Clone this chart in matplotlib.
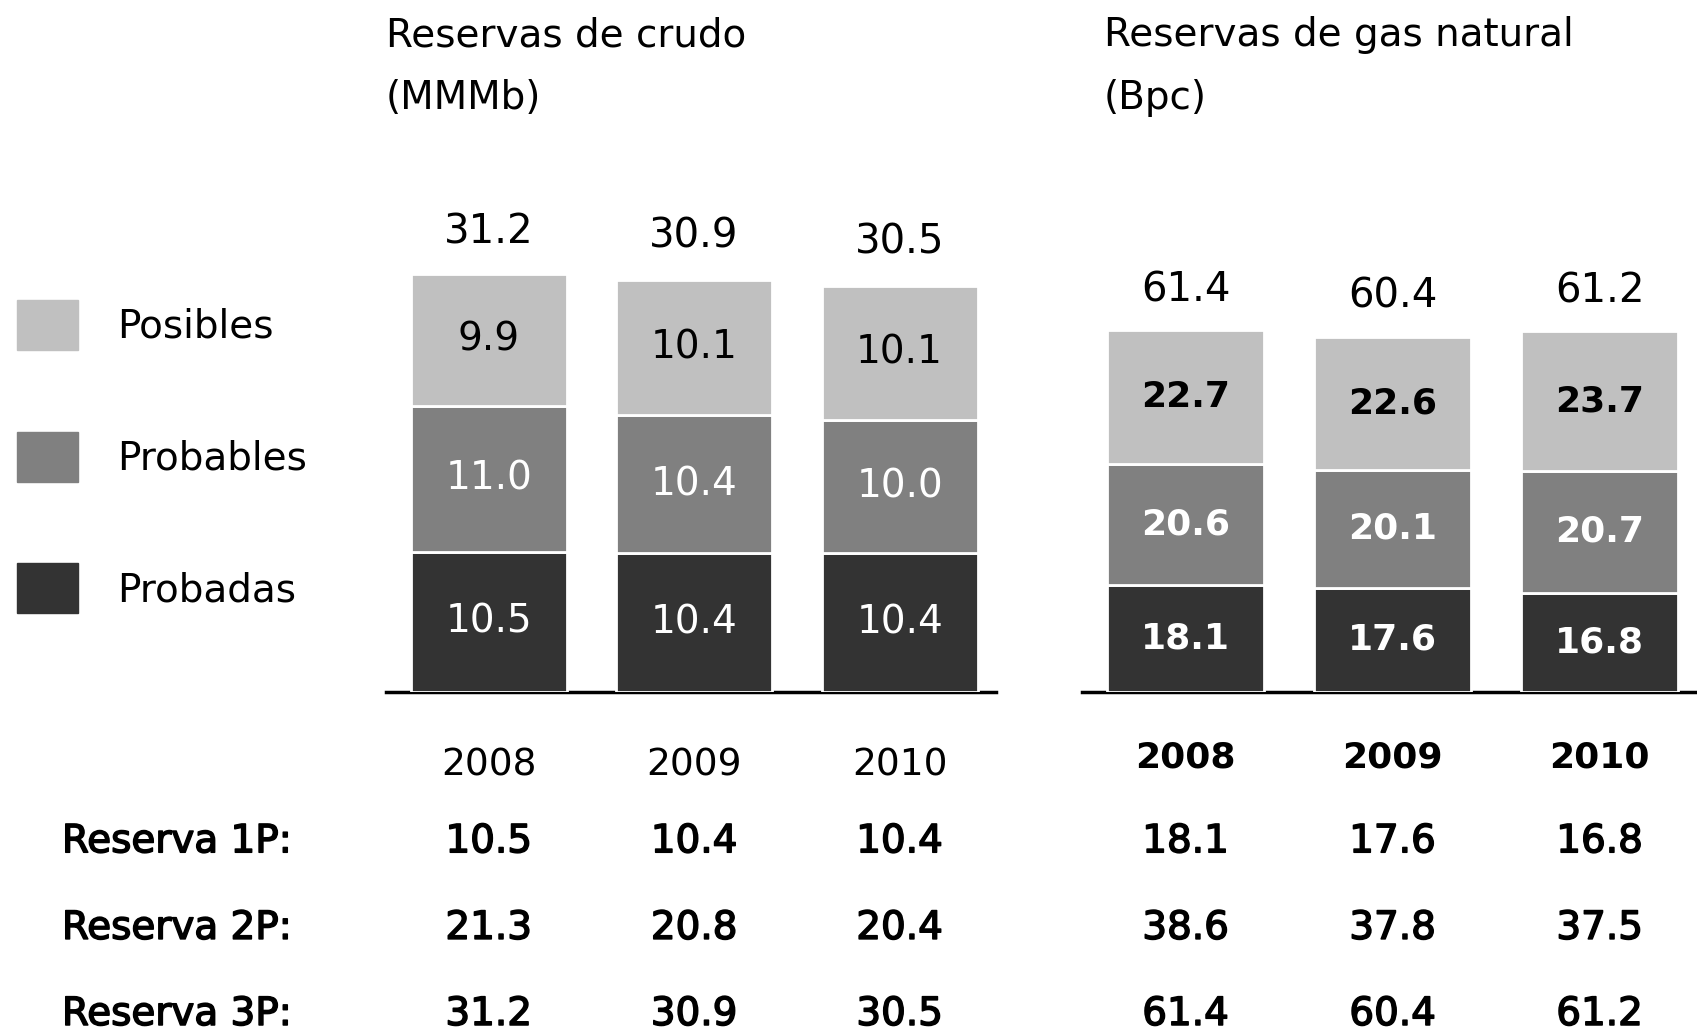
import matplotlib.pyplot as plt
import matplotlib.transforms as mtransforms
import matplotlib.patheffects as pe
from matplotlib.patches import Patch

plt.rcParams['font.family'] = ['DejaVu Sans']

years = ['2008', '2009', '2010']

# crude oil reserves (MMMb)
crudo_probadas = [10.5, 10.4, 10.4]
crudo_probables = [11.0, 10.4, 10.0]
crudo_posibles = [9.9, 10.1, 10.1]
crudo_total = [31.2, 30.9, 30.5]

# natural gas reserves (Bpc)
gas_probadas = [18.1, 17.6, 16.8]
gas_probables = [20.6, 20.1, 20.7]
gas_posibles = [22.7, 22.6, 23.7]
gas_total = [61.4, 60.4, 61.2]

# summary table
row_labels = ['Reserva 1P:', 'Reserva 2P:', 'Reserva 3P:']
crudo_tabla = [[10.5, 10.4, 10.4], [21.3, 20.8, 20.4], [31.2, 30.9, 30.5]]
gas_tabla = [[18.1, 17.6, 16.8], [38.6, 37.8, 37.5], [61.4, 60.4, 61.2]]

c_light, c_mid, c_dark = '#c0c0c0', '#808080', '#333333'

# slightly heavier than regular, for the summary table
medium = [pe.withStroke(linewidth=1.1, foreground='black')]

fig = plt.figure(figsize=(16.97, 10.31), dpi=100)

ax1 = fig.add_axes([0.2275, 0.329, 0.3595, 0.452])
ax2 = fig.add_axes([0.6377, 0.329, 0.3623, 0.40])

x = [0, 1, 2]
w = 0.76
table_y = [0.184, 0.100, 0.0165]


def draw(ax, probadas, probables, posibles, total, ymax, bold, tabla):
    bottom2 = [a + b for a, b in zip(probadas, probables)]
    ax.bar(x, probadas, w, color=c_dark, edgecolor='white', linewidth=2)
    ax.bar(x, probables, w, bottom=probadas, color=c_mid, edgecolor='white', linewidth=2)
    ax.bar(x, posibles, w, bottom=bottom2, color=c_light, edgecolor='white', linewidth=2)
    wt = 'bold' if bold else 'normal'
    fs = 26 if bold else 28
    for i in x:
        ax.text(i, probadas[i] / 2, f'{probadas[i]:.1f}', ha='center', va='center',
                color='white', fontsize=fs, fontweight=wt)
        ax.text(i, probadas[i] + probables[i] / 2, f'{probables[i]:.1f}', ha='center',
                va='center', color='white', fontsize=fs, fontweight=wt)
        ax.text(i, bottom2[i] + posibles[i] / 2, f'{posibles[i]:.1f}', ha='center',
                va='center', color='black', fontsize=fs, fontweight=wt)
        ax.annotate(f'{total[i]:.1f}', (i, total[i]), xytext=(0, 17 if not bold else 14),
                    textcoords='offset points', ha='center', va='bottom', fontsize=29)
    ax.axhline(0, color='black', linewidth=2.5, zorder=0, clip_on=False)
    ax.set_xlim(-0.5, 2.47)
    ax.set_ylim(0, ymax)
    ax.set_yticks([])
    ax.set_xticks(x)
    ax.set_xticklabels(years, fontsize=27 if not bold else 26, fontweight=wt)
    ax.tick_params(axis='x', length=0, pad=40 if not bold else 35)
    for s in ax.spines.values():
        s.set_visible(False)
    trans = mtransforms.blended_transform_factory(ax.transData, fig.transFigure)
    for r, yy in enumerate(table_y):
        for i in x:
            ax.text(i, yy, f'{tabla[r][i]:.1f}', transform=trans, ha='center',
                    va='center', fontsize=28, path_effects=medium)


draw(ax1, crudo_probadas, crudo_probables, crudo_posibles, crudo_total, 35, False, crudo_tabla)
draw(ax2, gas_probadas, gas_probables, gas_posibles, gas_total, 70, True, gas_tabla)

fig.text(0.2275, 0.966, 'Reservas de crudo', fontsize=28, va='center')
fig.text(0.2275, 0.905, '(MMMb)', fontsize=28, va='center')
fig.text(0.6505, 0.966, 'Reservas de gas natural', fontsize=28, va='center')
fig.text(0.6505, 0.905, '(Bpc)', fontsize=28, va='center')

for lab, yy in zip(row_labels, table_y):
    fig.text(0.0365, yy, lab, fontsize=28, va='center', path_effects=medium)

handles = [Patch(color=c_light), Patch(color=c_mid), Patch(color=c_dark)]
fig.legend(handles, ['Posibles', 'Probables', 'Probadas'], loc='upper left',
           bbox_to_anchor=(0.01, 0.709), frameon=False, fontsize=28,
           handlelength=1.57, handleheight=1.6, labelspacing=2.1,
           handletextpad=1.0, borderpad=0, borderaxespad=0)

fig.savefig('out.png', dpi=100)
